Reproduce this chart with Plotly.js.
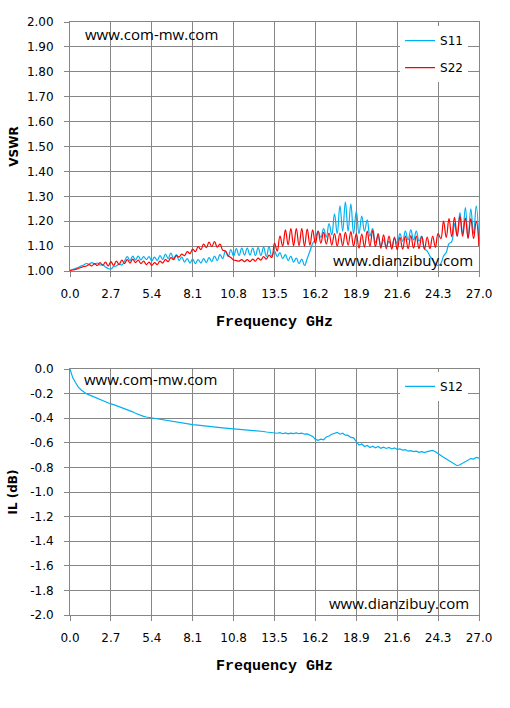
<!DOCTYPE html>
<html>
<head>
<meta charset="utf-8">
<script src="https://cdn.plot.ly/plotly-3.0.1.min.js"></script>
<style>html,body{margin:0;padding:0;background:#fff;}#chart{width:510px;height:708px;}</style>
</head>
<body>
<div id="chart"></div>
<script>
// Frequency sweep: start and step in GHz (uniform measurement grid)
var FREQ_START = 0;
var FREQ_STEP = 0.18;

var xTickVals = [0, 2.7, 5.4, 8.1, 10.8, 13.5, 16.2, 18.9, 21.6, 24.3, 27.0];
var xTickText = ["0.0","2.7","5.4","8.1","10.8","13.5","16.2","18.9","21.6","24.3","27.0"];
var y1TickVals = [1.0,1.1,1.2,1.3,1.4,1.5,1.6,1.7,1.8,1.9,2.0];
var y1TickText = ["1.00","1.10","1.20","1.30","1.40","1.50","1.60","1.70","1.80","1.90","2.00"];
var y2TickVals = [0,-0.2,-0.4,-0.6,-0.8,-1.0,-1.2,-1.4,-1.6,-1.8,-2.0];
var y2TickText = ["0.0","-0.2","-0.4","-0.6","-0.8","-1.0","-1.2","-1.4","-1.6","-1.8","-2.0"];

var s11 = [
 1.003,1.006,1.010,1.014,1.020,1.024,1.030,1.028,1.034,1.028,
 1.032,1.024,1.026,1.016,1.010,1.008,1.018,1.020,1.028,1.024,
 1.040,1.058,1.042,1.060,1.044,1.060,1.045,1.058,1.046,1.058,
 1.040,1.056,1.042,1.062,1.046,1.068,1.050,1.072,1.050,1.066,
 1.042,1.056,1.036,1.050,1.032,1.048,1.030,1.046,1.032,1.050,
 1.034,1.054,1.038,1.060,1.042,1.066,1.050,1.080,1.058,1.086,
 1.060,1.090,1.062,1.092,1.064,1.092,1.064,1.092,1.062,1.094,
 1.062,1.096,1.058,1.098,1.060,1.080,1.058,1.074,1.050,1.066,
 1.042,1.060,1.036,1.052,1.030,1.048,1.022,1.050,1.080,1.110,
 1.128,1.160,1.135,1.170,1.136,1.190,1.145,1.230,1.150,1.262,
 1.160,1.278,1.160,1.270,1.150,1.240,1.150,1.220,1.160,1.205,
 1.140,1.170,1.115,1.140,1.100,1.125,1.098,1.120,1.096,1.130,
 1.110,1.150,1.120,1.160,1.125,1.165,1.125,1.160,1.120,1.140,
 1.090,1.080,1.060,1.045,1.030,1.022,1.030,1.060,1.075,1.110,
 1.118,1.190,1.140,1.235,1.150,1.255,1.130,1.250,1.150,1.262,
 1.100
];

var s22 = [
 1.002,1.004,1.006,1.010,1.014,1.018,1.020,1.026,1.020,1.030,
 1.022,1.034,1.022,1.036,1.020,1.038,1.022,1.040,1.026,1.044,
 1.030,1.046,1.032,1.048,1.034,1.044,1.030,1.040,1.026,1.036,
 1.022,1.034,1.026,1.040,1.032,1.046,1.038,1.054,1.046,1.062,
 1.056,1.068,1.062,1.078,1.070,1.088,1.078,1.098,1.086,1.108,
 1.094,1.116,1.098,1.118,1.096,1.108,1.084,1.080,1.062,1.054,
 1.044,1.042,1.040,1.046,1.038,1.046,1.038,1.048,1.040,1.052,
 1.044,1.058,1.048,1.064,1.054,1.112,1.080,1.140,1.100,1.165,
 1.105,1.170,1.102,1.170,1.102,1.170,1.100,1.168,1.104,1.165,
 1.110,1.160,1.112,1.155,1.108,1.152,1.104,1.150,1.100,1.152,
 1.102,1.155,1.104,1.158,1.100,1.150,1.092,1.148,1.096,1.160,
 1.100,1.162,1.098,1.150,1.092,1.145,1.090,1.140,1.088,1.136,
 1.086,1.135,1.088,1.140,1.090,1.142,1.092,1.140,1.090,1.138,
 1.088,1.136,1.090,1.140,1.095,1.150,1.130,1.200,1.135,1.210,
 1.138,1.215,1.140,1.220,1.140,1.212,1.132,1.210,1.130,1.200,
 1.100
];

var s12 = [
 0.000,-0.070,-0.110,-0.145,-0.168,-0.188,-0.200,-0.210,-0.220,-0.230,
 -0.240,-0.250,-0.260,-0.270,-0.278,-0.284,-0.290,-0.298,-0.305,-0.312,
 -0.320,-0.328,-0.338,-0.348,-0.360,-0.370,-0.378,-0.385,-0.390,-0.394,
 -0.397,-0.400,-0.403,-0.406,-0.410,-0.414,-0.418,-0.424,-0.428,-0.432,
 -0.436,-0.440,-0.443,-0.446,-0.449,-0.452,-0.454,-0.457,-0.460,-0.462,
 -0.465,-0.468,-0.470,-0.472,-0.475,-0.477,-0.479,-0.481,-0.483,-0.484,
 -0.486,-0.487,-0.488,-0.490,-0.491,-0.493,-0.494,-0.496,-0.498,-0.500,
 -0.504,-0.508,-0.512,-0.515,-0.518,-0.515,-0.522,-0.518,-0.526,-0.520,
 -0.527,-0.521,-0.525,-0.519,-0.526,-0.522,-0.530,-0.527,-0.536,-0.548,
 -0.572,-0.580,-0.570,-0.575,-0.552,-0.545,-0.530,-0.525,-0.515,-0.530,
 -0.522,-0.538,-0.540,-0.556,-0.560,-0.590,-0.618,-0.610,-0.630,-0.622,
 -0.638,-0.628,-0.640,-0.630,-0.644,-0.636,-0.646,-0.638,-0.650,-0.642,
 -0.654,-0.650,-0.660,-0.655,-0.668,-0.664,-0.672,-0.668,-0.678,-0.672,
 -0.680,-0.672,-0.666,-0.662,-0.672,-0.685,-0.700,-0.718,-0.732,-0.745,
 -0.758,-0.772,-0.786,-0.778,-0.765,-0.752,-0.740,-0.728,-0.732,-0.718,
 -0.724
];

var BLUE = "#00b0f0", RED = "#ff0000", GRID = "#868686";
var tickFont = {family: "DejaVu Sans", size: 12, color: "#000"};
var xTitleFont = {family: "Liberation Mono", size: 15, color: "#000", weight: "bold"};
var yTitleFont = {family: "DejaVu Sans", size: 12, color: "#000", weight: "bold"};
var markFont = {family: "Open Sans", size: 15, color: "#000"};

var traces = [
  {name: "S11", y: s11, x0: FREQ_START, dx: FREQ_STEP, type: "scatter", mode: "lines",
   line: {color: BLUE, width: 1.2, shape: "spline", smoothing: 1.2}, xaxis: "x", yaxis: "y",
   legend: "legend", legendgroup: "a"},
  {name: "S22", y: s22, x0: FREQ_START, dx: FREQ_STEP, type: "scatter", mode: "lines",
   line: {color: RED, width: 1.2, shape: "spline", smoothing: 1.2}, xaxis: "x", yaxis: "y",
   legend: "legend", legendgroup: "b"},
  {name: "S12", y: s12, x0: FREQ_START, dx: FREQ_STEP, type: "scatter", mode: "lines",
   line: {color: BLUE, width: 1.2}, xaxis: "x2", yaxis: "y2", legend: "legend2"}
];

function xAxis(anchor) {
  return {
    anchor: anchor, domain: [0, 1], range: [0, 27], tickmode: "array", tickvals: xTickVals, ticktext: xTickText,
    showgrid: true, gridcolor: GRID, gridwidth: 1, showline: true, linecolor: GRID, linewidth: 1,
    mirror: true, ticks: "outside", ticklen: 5, tickcolor: GRID, tickfont: tickFont, zeroline: false,
    ticklabelstandoff: 7,
    title: {text: "Frequency GHz", font: xTitleFont, standoff: 15}, fixedrange: true
  };
}

function yAxis(domain, range, vals, text, title, standoff) {
  return {
    domain: domain, range: range, tickmode: "array", tickvals: vals, ticktext: text,
    showgrid: true, gridcolor: GRID, showline: true, linecolor: GRID, mirror: true,
    ticks: "outside", ticklen: 5, tickcolor: GRID, tickfont: tickFont, zeroline: false,
    ticklabelstandoff: 8,
    title: {text: title, font: yTitleFont, standoff: standoff}, fixedrange: true
  };
}

var layout = {
  width: 510, height: 708,
  paper_bgcolor: "#fff", plot_bgcolor: "#fff",
  margin: {l: 70, r: 31, t: 22, b: 93, pad: 0},
  showlegend: true,
  xaxis: xAxis("y"),
  xaxis2: xAxis("y2"),
  yaxis: yAxis([0.5801, 1], [1, 2], y1TickVals, y1TickText, "VSWR", 5),
  yaxis2: yAxis([0, 0.4148], [-2, 0], y2TickVals, y2TickText, "IL (dB)", 9),
  legend: {x: 0.807, y: 0.993, xanchor: "left", yanchor: "top", bgcolor: "#fff", borderwidth: 0,
    font: {family: "DejaVu Sans", size: 12, color: "#000"}, traceorder: "grouped", tracegroupgap: 8,
    itemwidth: 30},
  legend2: {x: 0.807, y: 0.41, xanchor: "left", yanchor: "top", bgcolor: "#fff", borderwidth: 0,
    font: {family: "DejaVu Sans", size: 12, color: "#000"}, itemwidth: 30},
  annotations: [
    {text: "www.com-mw.com", xref: "paper", yref: "paper", x: 0.0318, y: 0.98, xanchor: "left", yanchor: "middle", showarrow: false, font: markFont},
    {text: "www.dianzibuy.com", xref: "paper", yref: "paper", x: 0.638, y: 0.5986, xanchor: "left", yanchor: "middle", showarrow: false, font: markFont},
    {text: "www.com-mw.com", xref: "paper", yref: "paper", x: 0.0293, y: 0.398, xanchor: "left", yanchor: "middle", showarrow: false, font: markFont},
    {text: "www.dianzibuy.com", xref: "paper", yref: "paper", x: 0.628, y: 0.0202, xanchor: "left", yanchor: "middle", showarrow: false, font: markFont}
  ]
};

Plotly.newPlot("chart", traces, layout, {displayModeBar: false, staticPlot: true});
</script>
</body>
</html>
